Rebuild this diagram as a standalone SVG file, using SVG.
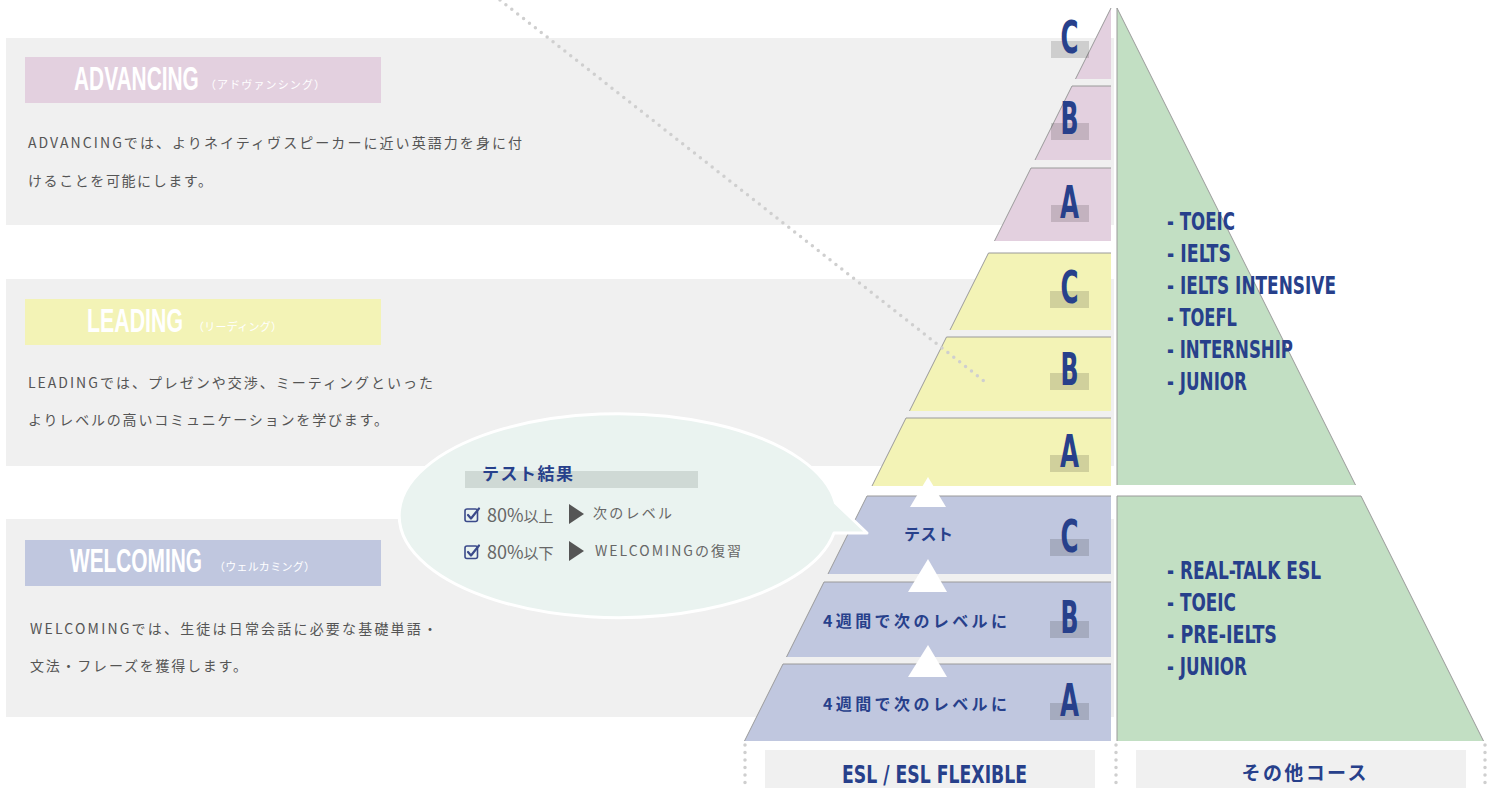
<svg xmlns="http://www.w3.org/2000/svg" width="1502" height="788" viewBox="0 0 1502 788">
<style>
.panel{fill:#f0f0f0}
.pink{fill:#e3d0df}
.yellow{fill:#f3f3b6}
.blue{fill:#c0c7df}
.green{fill:#c2dfc3}
.edge{fill:none;stroke:#9a9a9a;stroke-width:1}
.lbox{fill:#000;fill-opacity:0.14}
.letter{font-family:"Liberation Sans Narrow","DejaVu Sans Condensed","Liberation Sans",sans-serif;font-weight:bold;font-size:45px;fill:#27408b}
.bebas{font-family:"Liberation Sans Narrow","DejaVu Sans Condensed","Liberation Sans",sans-serif;font-weight:bold}
.hdr{font-family:"Liberation Sans",sans-serif;font-weight:bold;font-size:33px;fill:#ffffff}
.kana{font-family:"Noto Sans CJK JP",sans-serif;font-size:11px;fill:#ffffff}
.body{font-family:"Noto Sans CJK JP","Noto Sans",sans-serif;font-size:14px;fill:#555555}
.list{font-size:24px;fill:#27408b}
.jpb{font-family:"Noto Sans CJK JP",sans-serif;font-weight:bold;fill:#27408b}
.bub{font-family:"Noto Sans CJK JP","Noto Sans",sans-serif;fill:#666666}
.arrow{fill:#ffffff}
.dots{fill:none;stroke:#cfcfcf;stroke-width:3.5;stroke-linecap:round;stroke-dasharray:0 7.5}
</style>

<!-- background panels -->
<g id="panels">
<rect class="panel" x="6" y="38" width="1108" height="187"/>
<rect class="panel" x="6" y="279" width="1108" height="187"/>
<rect class="panel" x="6" y="519" width="1108" height="198"/>
</g>

<!-- level descriptions -->
<g id="advancing">
<rect class="pink" x="25" y="57" width="356" height="46"/>
<text class="hdr" transform="translate(74,90) scale(0.6,1)" textLength="208" lengthAdjust="spacingAndGlyphs">ADVANCING</text>
<text class="kana" x="205" y="89" textLength="120" lengthAdjust="spacing">（アドヴァンシング）</text>
<text class="body" x="28" y="148" textLength="494" lengthAdjust="spacing">ADVANCINGでは、よりネイティヴスピーカーに近い英語力を身に付</text>
<text class="body" x="28" y="186" textLength="184" lengthAdjust="spacing">けることを可能にします。</text>
</g>
<g id="leading">
<rect class="yellow" x="25" y="299" width="356" height="46"/>
<text class="hdr" transform="translate(87,332) scale(0.6,1)" textLength="160" lengthAdjust="spacingAndGlyphs">LEADING</text>
<text class="kana" x="193" y="331" textLength="89" lengthAdjust="spacing">（リーディング）</text>
<text class="body" x="28" y="388" textLength="405" lengthAdjust="spacing">LEADINGでは、プレゼンや交渉、ミーティングといった</text>
<text class="body" x="28" y="425" textLength="360" lengthAdjust="spacing">よりレベルの高いコミュニケーションを学びます。</text>
</g>
<g id="welcoming">
<rect class="blue" x="25" y="540" width="356" height="46"/>
<text class="hdr" transform="translate(70,572) scale(0.6,1)" textLength="220" lengthAdjust="spacingAndGlyphs">WELCOMING</text>
<text class="kana" x="214" y="571" textLength="101" lengthAdjust="spacing">（ウェルカミング）</text>
<text class="body" x="30" y="634" textLength="407" lengthAdjust="spacing">WELCOMINGでは、生徒は日常会話に必要な基礎単語・</text>
<text class="body" x="30" y="671" textLength="217" lengthAdjust="spacing">文法・フレーズを獲得します。</text>
</g>

<!-- left pyramid tiers -->
<g id="adv-c">
<polygon class="pink" points="1111,8 1111,79 1075.5,79"/>
<polyline class="edge" points="1075.5,79 1111,8"/>
<rect class="lbox" x="1051" y="41" width="38" height="17"/>
<text class="letter" x="1069.5" y="53" text-anchor="middle" textLength="18" lengthAdjust="spacingAndGlyphs">C</text>
</g>
<g id="adv-b">
<polygon class="pink" points="1072,86 1111,86 1111,160 1035,160"/>
<polyline class="edge" points="1035,160 1072,86 1111,86"/>
<rect class="lbox" x="1051" y="123" width="38" height="17"/>
<text class="letter" x="1069.5" y="134" text-anchor="middle" textLength="18" lengthAdjust="spacingAndGlyphs">B</text>
</g>
<g id="adv-a">
<polygon class="pink" points="1031,168 1111,168 1111,241 994.5,241"/>
<polyline class="edge" points="994.5,241 1031,168 1111,168"/>
<rect class="lbox" x="1051" y="205" width="38" height="17"/>
<text class="letter" x="1069.5" y="218" text-anchor="middle" textLength="19" lengthAdjust="spacingAndGlyphs">A</text>
</g>
<g id="lead-c">
<polygon class="yellow" points="988.5,253 1111,253 1111,330 950,330"/>
<polyline class="edge" points="950,330 988.5,253 1111,253"/>
<rect class="lbox" x="1050" y="291" width="39" height="17"/>
<text class="letter" x="1069.5" y="303" text-anchor="middle" textLength="18" lengthAdjust="spacingAndGlyphs">C</text>
</g>
<g id="lead-b">
<polygon class="yellow" points="946.5,337 1111,337 1111,411 909.5,411"/>
<polyline class="edge" points="909.5,411 946.5,337 1111,337"/>
<rect class="lbox" x="1050" y="373" width="39" height="17"/>
<text class="letter" x="1069.5" y="385" text-anchor="middle" textLength="18" lengthAdjust="spacingAndGlyphs">B</text>
</g>
<g id="lead-a">
<polygon class="yellow" points="906,418 1111,418 1111,486 872,486"/>
<polyline class="edge" points="872,486 906,418 1111,418"/>
<rect class="lbox" x="1050" y="455" width="39" height="17"/>
<text class="letter" x="1069.5" y="467" text-anchor="middle" textLength="19" lengthAdjust="spacingAndGlyphs">A</text>
</g>
<g id="wel-c">
<polygon class="blue" points="867,496 1111,496 1111,574 828,574"/>
<polyline class="edge" points="828,574 867,496 1111,496"/>
<rect class="lbox" x="1050" y="539" width="39" height="17"/>
<text class="letter" x="1069.5" y="552" text-anchor="middle" textLength="18" lengthAdjust="spacingAndGlyphs">C</text>
<text class="jpb" x="928.5" y="540" font-size="16" text-anchor="middle" textLength="49" lengthAdjust="spacing">テスト</text>
</g>
<g id="wel-b">
<polygon class="blue" points="824,582 1111,582 1111,657 786.5,657"/>
<polyline class="edge" points="786.5,657 824,582 1111,582"/>
<rect class="lbox" x="1050" y="621" width="39" height="17"/>
<text class="letter" x="1069.5" y="633" text-anchor="middle" textLength="18" lengthAdjust="spacingAndGlyphs">B</text>
<text class="jpb" x="915" y="627" font-size="16" text-anchor="middle" textLength="184" lengthAdjust="spacing">4週間で次のレベルに</text>
</g>
<g id="wel-a">
<polygon class="blue" points="783,664 1111,664 1111,741 744.5,741"/>
<polyline class="edge" points="744.5,741 783,664 1111,664"/>
<rect class="lbox" x="1050" y="703" width="39" height="17"/>
<text class="letter" x="1069.5" y="716" text-anchor="middle" textLength="19" lengthAdjust="spacingAndGlyphs">A</text>
<text class="jpb" x="915" y="710" font-size="16" text-anchor="middle" textLength="184" lengthAdjust="spacing">4週間で次のレベルに</text>
</g>

<!-- other courses (right pyramid) -->
<g id="other-upper">
<polygon class="green" points="1117,8 1355.5,485 1117,485"/>
<polyline class="edge" points="1117,485 1117,8 1355.5,485"/>
<g class="bebas list">
<text x="1167" y="230" textLength="68" lengthAdjust="spacingAndGlyphs">- TOEIC</text>
<text x="1167" y="262" textLength="64" lengthAdjust="spacingAndGlyphs">- IELTS</text>
<text x="1167" y="294" textLength="169" lengthAdjust="spacingAndGlyphs">- IELTS INTENSIVE</text>
<text x="1167" y="326" textLength="70" lengthAdjust="spacingAndGlyphs">- TOEFL</text>
<text x="1167" y="358" textLength="126" lengthAdjust="spacingAndGlyphs">- INTERNSHIP</text>
<text x="1167" y="390" textLength="80" lengthAdjust="spacingAndGlyphs">- JUNIOR</text>
</g>
</g>
<g id="other-lower">
<polygon class="green" points="1117,496 1361,496 1483.5,741 1117,741"/>
<polyline class="edge" points="1117,741 1117,496 1361,496 1483.5,741"/>
<g class="bebas list">
<text x="1167" y="579" textLength="154" lengthAdjust="spacingAndGlyphs">- REAL-TALK ESL</text>
<text x="1167" y="611" textLength="69" lengthAdjust="spacingAndGlyphs">- TOEIC</text>
<text x="1167" y="643" textLength="110" lengthAdjust="spacingAndGlyphs">- PRE-IELTS</text>
<text x="1167" y="675" textLength="80" lengthAdjust="spacingAndGlyphs">- JUNIOR</text>
</g>
</g>

<!-- connectors: arrows and dotted lines -->
<g id="connectors">
<polygon class="arrow" points="928,477 946,507 910,507"/>
<polygon class="arrow" points="928,559 947,592 908,592"/>
<polygon class="arrow" points="928,645 947,677 908,677"/>
<line class="dots" x1="500" y1="0" x2="984" y2="381"/>
<line class="dots" x1="745" y1="745" x2="745" y2="790"/>
<line class="dots" x1="1116" y1="745" x2="1116" y2="790"/>
<line class="dots" x1="1485" y1="745" x2="1485" y2="790"/>
</g>

<!-- speech bubble -->
<g id="test-result">
<path d="M 835.5,503 A 219,102 0 1 0 834,533 L 867,533 Z" fill="#eaf3f0" stroke="#ffffff" stroke-width="3" stroke-linejoin="round"/>
<rect x="465" y="471" width="233" height="17" fill="#cfd9d5"/>
<text class="jpb" x="482" y="480" font-size="17" textLength="91" lengthAdjust="spacing">テスト結果</text>
<g fill="none" stroke="#3b4a8a" stroke-width="1.6" stroke-linejoin="round" stroke-linecap="round">
<rect x="465" y="509" width="12.5" height="12.5" rx="2"/>
<path d="M 468,515 L 471,518.5 L 479,508.5" stroke-width="2.2"/>
<rect x="465" y="546" width="12.5" height="12.5" rx="2"/>
<path d="M 468,552 L 471,555.5 L 479,545.5" stroke-width="2.2"/>
</g>
<text class="bub" x="487" y="522" font-size="18">80%<tspan font-size="15">以上</tspan></text>
<polygon points="569,504 584,514 569,524" fill="#555555"/>
<text class="bub" x="593" y="518" font-size="14" textLength="79" lengthAdjust="spacing">次のレベル</text>
<text class="bub" x="487" y="559" font-size="18">80%<tspan font-size="15">以下</tspan></text>
<polygon points="569,541 584,551 569,561" fill="#555555"/>
<text class="bub" x="595" y="556" font-size="14" textLength="146" lengthAdjust="spacing">WELCOMINGの復習</text>
</g>

<!-- bottom labels -->
<g id="label-esl">
<rect class="panel" x="765" y="750" width="330" height="40"/>
<text class="bebas" x="842" y="783" font-size="25" fill="#27408b" textLength="185" lengthAdjust="spacingAndGlyphs">ESL / ESL FLEXIBLE</text>
</g>
<g id="label-other">
<rect class="panel" x="1136" y="750" width="330" height="40"/>
<text class="jpb" x="1304" y="780" font-size="19" text-anchor="middle" textLength="125" lengthAdjust="spacing">その他コース</text>
</g>
</svg>
